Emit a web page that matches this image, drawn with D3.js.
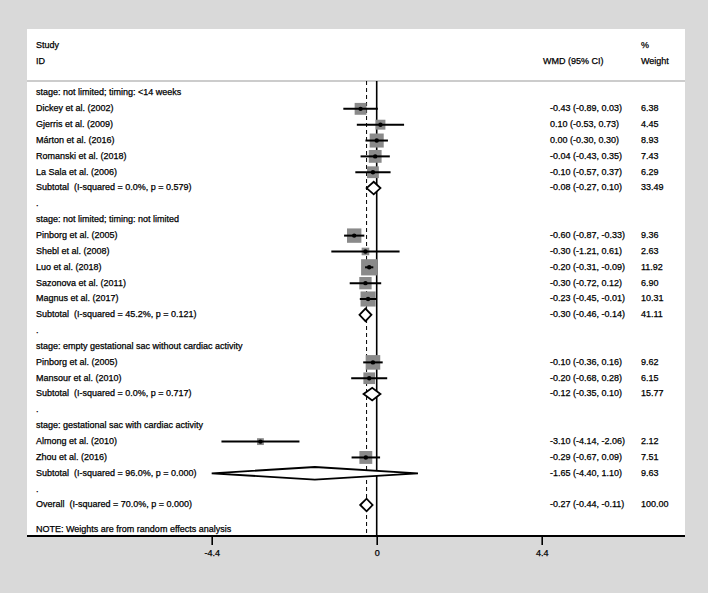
<!DOCTYPE html>
<html>
<head>
<meta charset="utf-8">
<script src="https://cdn.jsdelivr.net/npm/d3@7"></script>
<style>
  html, body { margin: 0; padding: 0; background: #d9d9d9; }
  svg { display: block; }
  text { font-family: "Liberation Sans", Arial, sans-serif; font-size: 9px; fill: #000; stroke: #000; stroke-width: 0.25px; white-space: pre; }
</style>
</head>
<body>
<svg id="chart" width="708" height="593"></svg>
<script>
// ---------------- DATA ----------------
const groupTitles = [
  "stage: not limited; timing: <14 weeks",
  "stage: not limited; timing: not limited",
  "stage: empty gestational sac without cardiac activity",
  "stage: gestational sac with cardiac activity"
];
const studyNames = [
  "Dickey et al. (2002)", "Gjerris et al. (2009)", "Márton et al. (2016)", "Romanski et al. (2018)", "La Sala et al. (2006)",
  "Pinborg et al. (2005)", "Shebl et al. (2008)", "Luo et al. (2018)", "Sazonova et al. (2011)", "Magnus et al. (2017)",
  "Pinborg et al. (2005)", "Mansour et al. (2010)",
  "Almong et al. (2010)", "Zhou et al. (2016)"
];
const studyGroup  = [0, 0, 0, 0, 0, 1, 1, 1, 1, 1, 2, 2, 3, 3];
const studyWMD    = [-0.43, 0.10, 0.00, -0.04, -0.10, -0.60, -0.30, -0.20, -0.30, -0.23, -0.10, -0.20, -3.10, -0.29];
const studyLow    = [-0.89, -0.53, -0.30, -0.43, -0.57, -0.87, -1.21, -0.31, -0.72, -0.45, -0.36, -0.68, -4.14, -0.67];
const studyHigh   = [0.03, 0.73, 0.30, 0.35, 0.37, -0.33, 0.61, -0.09, 0.12, -0.01, 0.16, 0.28, -2.06, 0.09];
const studyWeight = [6.38, 4.45, 8.93, 7.43, 6.29, 9.36, 2.63, 11.92, 6.90, 10.31, 9.62, 6.15, 2.12, 7.51];

const subtotalI2     = ["0.0%", "45.2%", "0.0%", "96.0%"];
const subtotalP      = ["0.579", "0.121", "0.717", "0.000"];
const subtotalWMD    = [-0.08, -0.30, -0.12, -1.65];
const subtotalLow    = [-0.27, -0.46, -0.35, -4.40];
const subtotalHigh   = [0.10, -0.14, 0.10, 1.10];
const subtotalWeight = [33.49, 41.11, 15.77, 9.63];

const overallI2 = "70.0%", overallP = "0.000";
const overallWMD = -0.27, overallLow = -0.44, overallHigh = -0.11, overallWeight = 100.00;

const tickValues = [-4.4, 0, 4.4];
const tickLabels = ["-4.4", "0", "4.4"];

// ---------------- BUILD ROWS ----------------
const rows = [];
groupTitles.forEach((title, g) => {
  rows.push({ type: "title", label: title });
  studyNames.forEach((name, i) => {
    if (studyGroup[i] === g) rows.push({ type: "study", label: name, est: studyWMD[i], lo: studyLow[i], hi: studyHigh[i], w: studyWeight[i] });
  });
  rows.push({ type: "sub", label: `Subtotal  (I-squared = ${subtotalI2[g]}, p = ${subtotalP[g]})`, est: subtotalWMD[g], lo: subtotalLow[g], hi: subtotalHigh[g], w: subtotalWeight[g] });
  rows.push({ type: "dot", label: "." });
});
rows.push({ type: "sub", label: `Overall  (I-squared = ${overallI2}, p = ${overallP})`, est: overallWMD, lo: overallLow, hi: overallHigh, w: overallWeight });
rows.forEach((r, i) => r.idx = i);

// ---------------- LAYOUT ----------------
const svg = d3.select("#chart");
const panel = { left: 27, right: 685, top: 29, bottom: 536 };
const headerLineY = 81;

const x = d3.scaleLinear().domain([-4.4, 4.4]).range([211.7, 541.7]);
const y = d3.scaleLinear().domain([0, rows.length - 1]).range([93, 505]);
const boxSide = d3.scaleSqrt().domain([0, 1]).range([0, 4.7]);
const f2 = d3.format(".2f");
const fmt = v => f2(v).replace("−", "-");

svg.append("rect").attr("x", panel.left).attr("y", panel.top)
  .attr("width", panel.right - panel.left).attr("height", panel.bottom - panel.top).attr("fill", "#fff");

// header
const textX = 36, ciX = 550, wX = 641;
svg.append("text").attr("x", textX).attr("y", 46).attr("dominant-baseline", "middle").text("Study");
svg.append("text").attr("x", textX).attr("y", 62).attr("dominant-baseline", "middle").text("ID");
svg.append("text").attr("x", 543).attr("y", 62).attr("dominant-baseline", "middle").text("WMD (95% CI)");
svg.append("text").attr("x", wX).attr("y", 46).attr("dominant-baseline", "middle").text("%");
svg.append("text").attr("x", wX).attr("y", 62).attr("dominant-baseline", "middle").text("Weight");
svg.append("line").attr("x1", panel.left).attr("x2", panel.right).attr("y1", headerLineY).attr("y2", headerLineY)
  .attr("stroke", "#999").attr("stroke-width", 1.2);

// reference lines
svg.append("line").attr("x1", x(overallWMD)).attr("x2", x(overallWMD)).attr("y1", headerLineY).attr("y2", panel.bottom)
  .attr("stroke", "#000").attr("stroke-width", 1).attr("stroke-dasharray", "4,3");
svg.append("line").attr("x1", x(0)).attr("x2", x(0)).attr("y1", headerLineY).attr("y2", panel.bottom)
  .attr("stroke", "#000").attr("stroke-width", 1.6);

// row labels
svg.append("g").selectAll("text").data(rows).join("text")
  .attr("x", textX).attr("y", d => y(d.idx)).attr("dominant-baseline", "middle")
  .text(d => d.label);

// value columns
const valRows = rows.filter(d => d.type === "study" || d.type === "sub");
svg.append("g").selectAll("text").data(valRows).join("text")
  .attr("x", ciX).attr("y", d => y(d.idx)).attr("dominant-baseline", "middle")
  .text(d => `${fmt(d.est)} (${fmt(d.lo)}, ${fmt(d.hi)})`);
svg.append("g").selectAll("text").data(valRows).join("text")
  .attr("x", wX).attr("y", d => y(d.idx)).attr("dominant-baseline", "middle")
  .text(d => fmt(d.w));

// study marks
const studies = rows.filter(d => d.type === "study");
const gS = svg.append("g");
gS.selectAll("rect").data(studies).join("rect")
  .attr("x", d => x(d.est) - boxSide(d.w) / 2).attr("y", d => y(d.idx) - boxSide(d.w) / 2)
  .attr("width", d => boxSide(d.w)).attr("height", d => boxSide(d.w))
  .attr("fill", "#8a8a8a");
gS.selectAll("line").data(studies).join("line")
  .attr("x1", d => x(d.lo)).attr("x2", d => x(d.hi)).attr("y1", d => y(d.idx)).attr("y2", d => y(d.idx))
  .attr("stroke", "#000").attr("stroke-width", 2);
gS.selectAll("circle").data(studies).join("circle")
  .attr("cx", d => x(d.est)).attr("cy", d => y(d.idx)).attr("r", 2.2).attr("fill", "#000");

// diamonds
const subs = rows.filter(d => d.type === "sub");
const dh = 6.3;
svg.append("g").selectAll("path").data(subs).join("path")
  .attr("d", d => {
    const cy = y(d.idx);
    return `M${x(d.lo)},${cy} L${x(d.est)},${cy - dh} L${x(d.hi)},${cy} L${x(d.est)},${cy + dh} Z`;
  })
  .attr("fill", "#fff").attr("stroke", "#000").attr("stroke-width", 1.8).attr("stroke-linejoin", "miter");

// note
svg.append("text").attr("x", textX).attr("y", 530).attr("dominant-baseline", "middle")
  .text("NOTE: Weights are from random effects analysis");

// axis
svg.append("line").attr("x1", panel.left).attr("x2", panel.right).attr("y1", panel.bottom).attr("y2", panel.bottom)
  .attr("stroke", "#000").attr("stroke-width", 2);
const axis = d3.axisBottom(x).tickValues(tickValues).tickFormat((d, i) => tickLabels[i]).tickSize(9).tickPadding(5);
const gA = svg.append("g").attr("transform", `translate(0,${panel.bottom})`).call(axis);
gA.select(".domain").remove();
gA.selectAll(".tick line").attr("stroke", "#000").attr("stroke-width", 1.6);
gA.selectAll(".tick text").attr("font-size", 9).attr("font-family", "Liberation Sans, Arial, sans-serif")
  .attr("fill", "#000").attr("stroke", "#000").attr("stroke-width", 0.25);
</script>
</body>
</html>
